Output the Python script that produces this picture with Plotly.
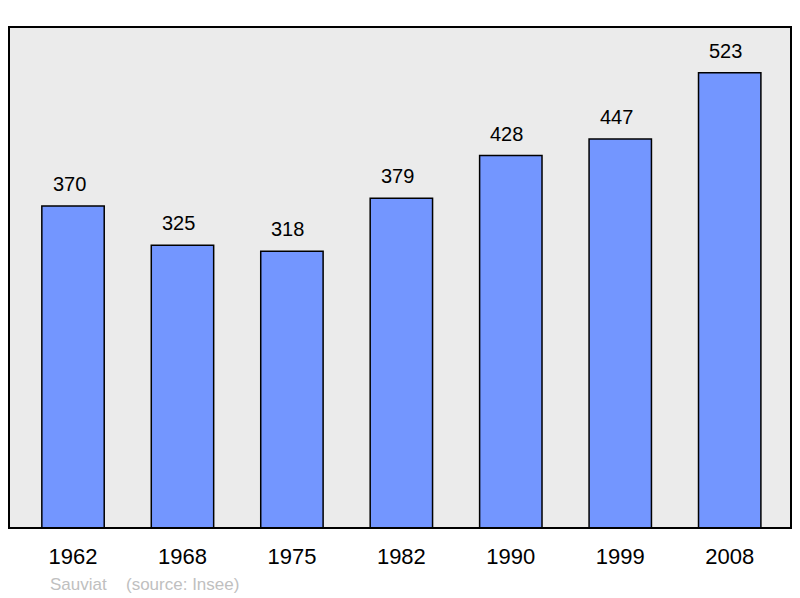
import plotly.graph_objects as go

years = ["1962", "1968", "1975", "1982", "1990", "1999", "2008"]
population = [370, 325, 318, 379, 428, 447, 523]
place = "Sauviat"
source = "(source: Insee)"

xs = list(range(len(years)))

fig = go.Figure()
fig.add_trace(go.Bar(
    x=xs, y=population,
    width=0.57,
    marker=dict(color="#7396FF", line=dict(color="#000000", width=1.5)),
    hoverinfo="skip",
))

annots = [
    dict(x=x, y=v, xref="x", yref="y", text=str(v), showarrow=False,
         yanchor="middle", yshift=22, xshift=-4, font=dict(size=20, color="#000000"))
    for x, v in zip(xs, population)
]
annots += [
    dict(text=place, xref="paper", yref="paper", x=(48-9)/782, y=-(584-528)/501,
         xanchor="left", yanchor="middle", showarrow=False,
         font=dict(size=17, color="#C0C0C0")),
    dict(text=source, xref="paper", yref="paper", x=(124-9)/782, y=-(584-528)/501,
         xanchor="left", yanchor="middle", showarrow=False,
         font=dict(size=17, color="#C0C0C0")),
]

fig.update_layout(
    width=784, height=590,
    margin=dict(l=1, r=1, t=19, b=70),
    paper_bgcolor="#FFFFFF", plot_bgcolor="#EBEBEB",
    showlegend=False,
    font=dict(family="Liberation Sans", color="#000000"),
    xaxis=dict(range=[-0.585, 6.56], tickmode="array", tickvals=xs,
               ticktext=years, showgrid=False, zeroline=False, ticks="",
               tickfont=dict(size=22), ticklabelstandoff=13),
    yaxis=dict(range=[0, 575.7], showgrid=False, zeroline=False, showticklabels=False, ticks=""),
    shapes=[dict(type="rect", xref="paper", yref="paper", x0=0, x1=1, y0=0, y1=1,
                 line=dict(color="#000000", width=2), layer="above")],
    annotations=annots,
)
fig.write_html("out.html")
